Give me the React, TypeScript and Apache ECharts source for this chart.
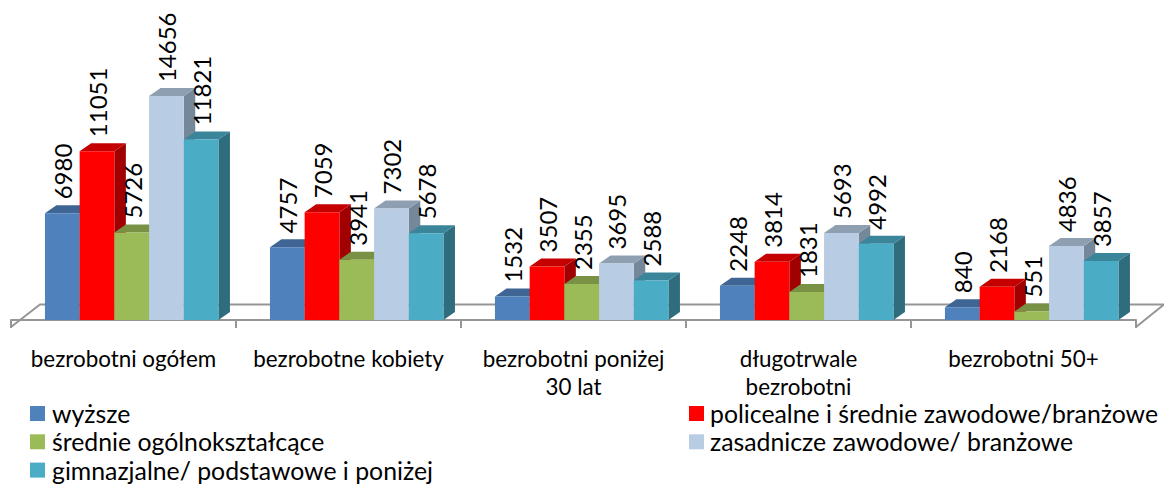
import React, { useEffect, useRef } from "react";
import * as echarts from "echarts";

const categories = [
  "bezrobotni ogółem",
  "bezrobotne kobiety",
  "bezrobotni poniżej\n30 lat",
  "długotrwale\nbezrobotni",
  "bezrobotni 50+",
];
const seriesNames = [
  "wyższe",
  "policealne i średnie zawodowe/branżowe",
  "średnie ogólnokształcące",
  "zasadnicze zawodowe/ branżowe",
  "gimnazjalne/ podstawowe i poniżej",
];
const wyzsze = [6980, 4757, 1532, 2248, 840];
const policealne = [11051, 7059, 3507, 3814, 2168];
const srednie = [5726, 3941, 2355, 1831, 551];
const zasadnicze = [14656, 7302, 3695, 5693, 4836];
const gimnazjalne = [11821, 5678, 2588, 4992, 3857];
const allValues = [wyzsze, policealne, srednie, zasadnicze, gimnazjalne];

const fronts = ["#4F81BD", "#FF0000", "#9BBB59", "#B8CCE4", "#4BACC6"];
const tops = ["#3E6593", "#C40000", "#799145", "#8F9FB2", "#3A8599"];
const sides = ["#33536F", "#A00000", "#637740", "#75889A", "#2F6C7D"];

const DX = 11.5;
const DY = 8;
const BAR_SHARE = 34.7 / 225;
const GROUP_SHIFT = 8.2 / 225;

export default function App() {
  const ref = useRef<HTMLDivElement>(null);
  useEffect(() => {
    const chart = echarts.init(ref.current!, undefined, { renderer: "svg" });
    const barSeries = seriesNames.map((name, si) => ({
      type: "custom",
      name,
      silent: true,
      itemStyle: { color: fronts[si] },
      encode: { x: 0, y: 1 },
      data: allValues[si].map((v, ci) => [ci, v]),
      renderItem: (_p: any, api: any) => {
        const ci = api.value(0);
        const v = api.value(1);
        const band = api.size([1, 0])[0];
        const w = band * BAR_SHARE;
        const [cx, y0] = api.coord([ci, 0]);
        const [, y1] = api.coord([ci, v]);
        const x0 = cx + band * GROUP_SHIFT + (si - 2.5) * w;
        const x1 = x0 + w;
        return {
          type: "group",
          children: [
            {
              type: "polygon",
              shape: { points: [[x1, y1], [x1 + DX, y1 - DY], [x1 + DX, y0 - DY], [x1, y0]] },
              style: { fill: sides[si] },
            },
            {
              type: "polygon",
              shape: { points: [[x0, y1], [x0 + DX, y1 - DY], [x1 + DX, y1 - DY], [x1, y1]] },
              style: { fill: tops[si] },
            },
            {
              type: "polygon",
              shape: { points: [[x0, y0], [x0, y1], [x1, y1], [x1, y0]] },
              style: { fill: fronts[si] },
            },
            {
              type: "text",
              x: x0 + w / 2 + 0.5,
              y: y1 - 14,
              rotation: Math.PI / 2,
              z2: 100,
              style: {
                text: String(v),
                fill: "#000000",
                font: "24px Lato",
                align: "left",
                verticalAlign: "middle",
              },
            },
          ],
        };
      },
    }));
    const floorSeries = {
      type: "custom",
      name: "floor",
      silent: true,
      data: [[0, 0]],
      encode: { x: 0, y: 1 },
      renderItem: (p: any) => {
        const cs = p.coordSys;
        const l = cs.x;
        const r = cs.x + cs.width;
        const b = cs.y + cs.height;
        return {
          type: "polyline",
          shape: { points: [[l, b + 7], [l + 29, b - 15.5], [r + 28, b - 15.5], [r, b + 7]] },
          style: { stroke: "#969696", lineWidth: 2, fill: "none" },
        };
      },
    };
    const legendBase = {
      orient: "vertical",
      icon: "rect",
      itemWidth: 15,
      itemHeight: 15,
      itemGap: 3.3,
      selectedMode: false,
      padding: 0,
    };
    const legendText = { fontFamily: "Lato", fontSize: 24.8, color: "#000000", lineHeight: 25 };
    chart.setOption({
      animation: false,
      backgroundColor: "#ffffff",
      grid: { left: 11, width: 1125, top: 90.8, height: 229.2, containLabel: false },
      xAxis: {
        type: "category",
        data: categories,
        offset: 7,
        boundaryGap: true,
        axisLine: { lineStyle: { color: "#969696", width: 2 } },
        axisTick: { show: true, alignWithLabel: false, length: 8, lineStyle: { color: "#969696", width: 2 } },
        axisLabel: { fontFamily: "Lato", fontSize: 22.4, color: "#000000", margin: 17, lineHeight: 28, interval: 0 },
      },
      yAxis: { type: "value", min: 0, max: 15000, show: false },
      legend: [
        {
          ...legendBase,
          left: 30,
          top: 401,
          textStyle: { ...legendText, padding: [0, 0, 0, 2] },
          data: [seriesNames[0], seriesNames[2], seriesNames[4]],
        },
        {
          ...legendBase,
          left: 689,
          top: 401,
          textStyle: { ...legendText, padding: [0, 0, 0, 1] },
          data: [seriesNames[1], seriesNames[3]],
        },
      ],
      series: [floorSeries, ...barSeries],
    });
    return () => chart.dispose();
  }, []);
  return <div ref={ref} style={{ position: "absolute", left: 0, top: 0, width: 1164, height: 484 }} />;
}
